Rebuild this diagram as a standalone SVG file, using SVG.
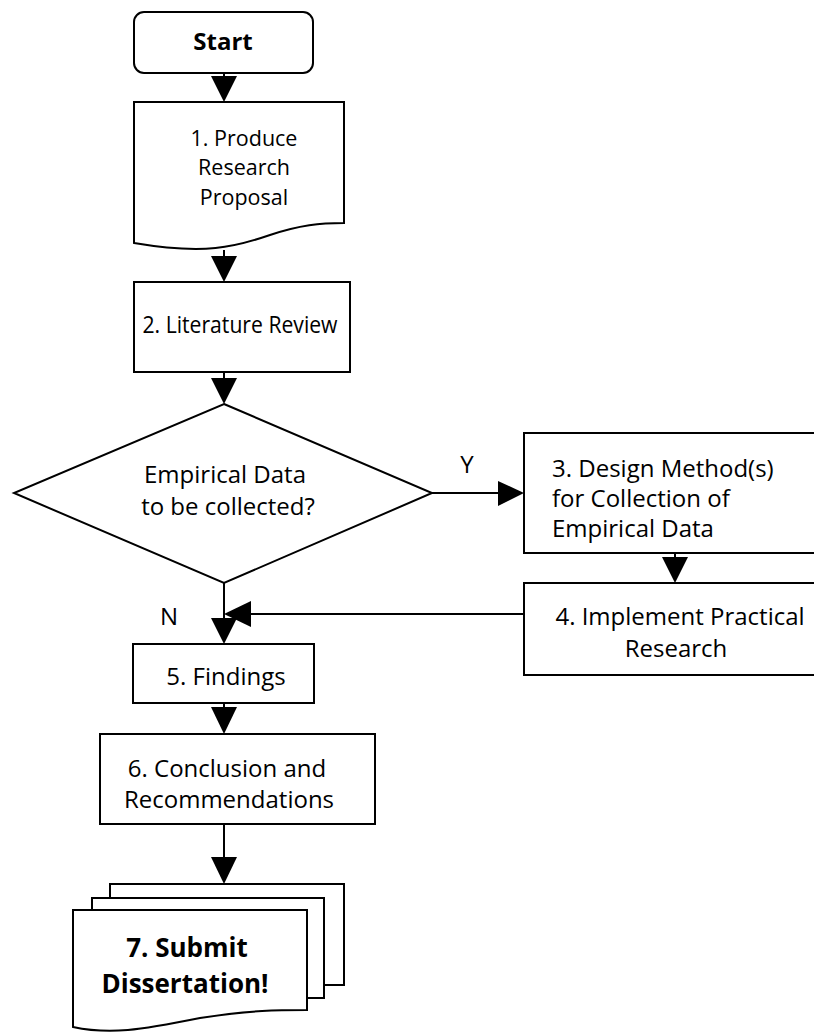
<svg xmlns="http://www.w3.org/2000/svg" width="814" height="1032" viewBox="0 0 814 1032">
<style>
.s{fill:#fff;stroke:#000;stroke-width:2}
.t{font-family:"Open Sans","Noto Sans","DejaVu Sans",sans-serif;font-size:24px;fill:#000}
.b{font-weight:bold}
.d{font-size:26px}
.p{font-size:21.5px}
.m{text-anchor:middle}
.c{stroke:#000;stroke-width:2;fill:none}
.h{fill:#000;stroke:none}
</style>
<rect width="814" height="1032" fill="#fff"/>
<g id="connectors">
<line class="c" x1="224" y1="73" x2="224" y2="80"/>
<polygon class="h" points="211,76 237,76 224,102"/>
<line class="c" x1="224" y1="250" x2="224" y2="260"/>
<polygon class="h" points="211,256 237,256 224,282"/>
<line class="c" x1="224" y1="372" x2="224" y2="380"/>
<polygon class="h" points="211,378 237,378 224,404"/>
<line class="c" x1="432" y1="493" x2="500" y2="493"/>
<polygon class="h" points="498,481 498,506 524,493"/>
<line class="c" x1="675" y1="553" x2="675" y2="560"/>
<polygon class="h" points="662,557 688,557 675,583"/>
<line class="c" x1="224" y1="583" x2="224" y2="620"/>
<polygon class="h" points="211,618 237,618 224,644"/>
<line class="c" x1="524" y1="614" x2="245" y2="614"/>
<polygon class="h" points="251,601 251,627 224,614"/>
<line class="c" x1="224" y1="703" x2="224" y2="710"/>
<polygon class="h" points="211,707 237,707 224,734"/>
<line class="c" x1="224" y1="824" x2="224" y2="860"/>
<polygon class="h" points="211,857 237,857 224,884"/>
</g>
<g id="start">
<rect class="s" x="134" y="12" width="179" height="61" rx="10"/>
<text class="t b m" x="223" y="50">Start</text>
</g>
<g id="node1">
<path class="s" d="M134,102 H344 V223 C320,223 300,225 270,235 C235,247 205,255 134,243 Z"/>
<text class="t m p" x="244" y="145.5">1. Produce</text>
<text class="t m p" x="244" y="175">Research</text>
<text class="t m p" x="244" y="204.5">Proposal</text>
</g>
<g id="node2">
<rect class="s" x="134" y="282" width="216" height="90"/>
<text class="t m" x="240" y="333" style="font-size:23px" textLength="195" lengthAdjust="spacingAndGlyphs">2. Literature Review</text>
</g>
<g id="decision">
<polygon class="s" points="224,404 432,493 224,583 14,493"/>
<text class="t m" x="225" y="483">Empirical Data</text>
<text class="t m" x="228" y="515">to be collected?</text>
</g>
<g id="labelY"><text class="t m" x="467" y="473">Y</text></g>
<g id="labelN"><text class="t m" x="169" y="625">N</text></g>
<g id="node3">
<rect class="s" x="524" y="433" width="294" height="120"/>
<text class="t" x="552" y="477">3. Design Method(s)</text>
<text class="t" x="552" y="507">for Collection of</text>
<text class="t" x="552" y="537">Empirical Data</text>
</g>
<g id="node4">
<rect class="s" x="524" y="583" width="294" height="92"/>
<text class="t m" x="680" y="625">4. Implement Practical</text>
<text class="t m" x="676" y="657">Research</text>
</g>
<g id="node5">
<rect class="s" x="133" y="644" width="181" height="59"/>
<text class="t m" x="226" y="685">5. Findings</text>
</g>
<g id="node6">
<rect class="s" x="100" y="734" width="275" height="90"/>
<text class="t m" x="227" y="777">6. Conclusion and</text>
<text class="t m" x="229" y="808">Recommendations</text>
</g>
<g id="node7">
<rect class="s" x="110" y="884" width="234" height="101"/>
<rect class="s" x="92" y="898" width="232" height="100"/>
<path class="s" d="M73,910 H307 V1010 C280,1010 250,1010 200,1018 C140,1030 110,1035 73,1027 Z"/>
<text class="t b m d" x="187" y="957">7. Submit</text>
<text class="t b m d" x="185" y="993">Dissertation!</text>
</g>
</svg>
